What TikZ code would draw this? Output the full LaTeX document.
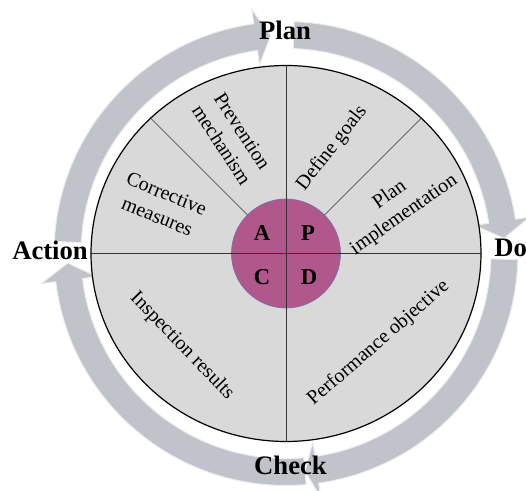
\documentclass[tikz,border=0pt]{standalone}
\usepackage{fontspec}
\setmainfont{Liberation Serif}
\usetikzlibrary{shapes.geometric}
\definecolor{diskgray}{RGB}{217,217,217}
\definecolor{coremag}{RGB}{176,88,140}
\definecolor{coreedge}{RGB}{120,110,175}
\definecolor{bandgray}{RGB}{192,195,202}
\definecolor{bandlight}{RGB}{236,237,240}
\newcommand{\cyclearrow}[3]{%
  \path[band] (#1:232) arc[start angle=#1, end angle=#2, radius=232]
    -- (#2:246.5) -- (#3:218.5) -- (#2:190.5) -- (#2:205)
    arc[start angle=#2, end angle=#1, radius=205] -- cycle;}
\begin{document}
\begin{tikzpicture}[
      x=0.75pt, y=0.75pt,
      band/.style={fill=bandgray, draw=bandlight, line width=0.8pt},
      divider/.style={draw=black!80, line width=0.5pt},
      phase/.style={font=\fontsize{20}{24}\selectfont\bfseries, inner sep=0pt},
      task/.style={font=\fontsize{15}{18.5}\selectfont, align=center, inner sep=0pt},
      letter/.style={font=\fontsize{17}{20}\selectfont\bfseries, inner sep=0pt},
    ]
      \useasboundingbox (-286,-237.5) rectangle (240,253.5);
      \cyclearrow{177}{98}{94}
      \cyclearrow{88}{8.5}{4}
      \cyclearrow{-1.5}{-81.9}{-85}
      \cyclearrow{-85}{-173}{-177.5}
      \node[draw, ellipse, fill=diskgray, line width=0.9pt, inner sep=0pt,
        minimum width=292.5pt, minimum height=282pt] (disk) at (0,0) {};
      \node[circle, fill=coremag, draw=coreedge, line width=0.5pt, inner sep=0pt,
        minimum size=81.75pt] (core) at (0,0) {};
      \draw[divider] (disk.north) -- (disk.south);
      \draw[divider] (disk.west) -- (disk.east);
      \draw[divider] (core.45) -- (disk.45);
      \draw[divider] (core.135) -- (disk.135);
      \node[task, rotate=-57] (prevent) at (-54,115.5) {Prevention\\mechanism};
      \node[task, rotate=52] (goals) at (46,105.5) {Define goals};
      \node[task, rotate=35] (implement) at (111,48.5) {Plan\\implementation};
      \node[task, rotate=-22] (corrective) at (-124,48.5) {Corrective\\measures};
      \node[task, rotate=-46] (inspect) at (-104,-92.5) {Inspection results};
      \node[task, rotate=41] (perform) at (92.5,-89.5) {Performance objective};
      \node[letter] (a) at (-24,20.5) {A};
      \node[letter] (p) at (22,20.5) {P};
      \node[letter] (c) at (-24,-23.5) {C};
      \node[letter] (d) at (23,-23.5) {D};
      \node[phase, anchor=base] (plan) at (-1,213.5) {Plan};
      \node[phase, anchor=base west] (action) at (-274,-6.5) {Action};
      \node[phase, anchor=base west] (do) at (208,-3.5) {Do};
      \node[phase, anchor=base] (check) at (4.5,-221.5) {Check};
    \end{tikzpicture}
\end{document}
